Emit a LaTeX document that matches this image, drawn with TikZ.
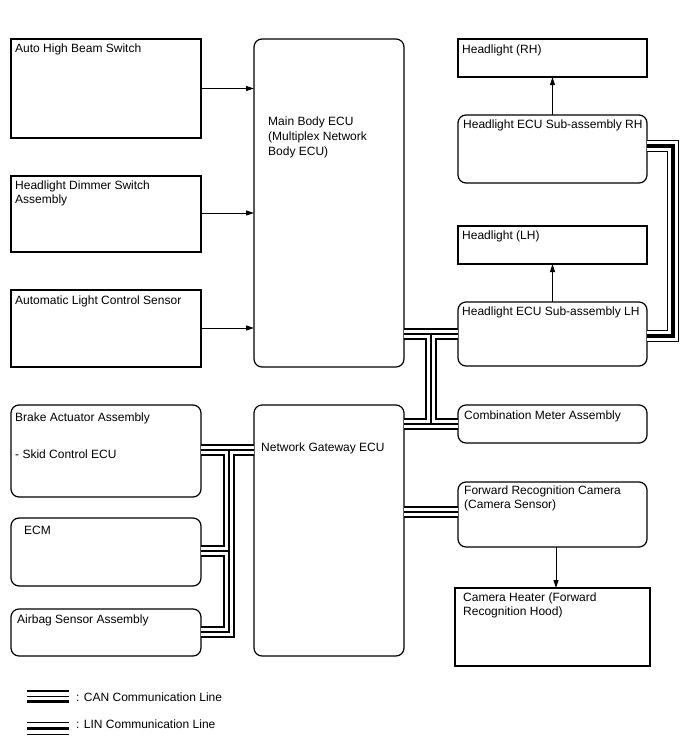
\documentclass[tikz,border=0pt]{standalone}
\usepackage{fontspec}
\setmainfont{Liberation Sans}
\usetikzlibrary{calc,arrows.meta}
\begin{document}
\begin{tikzpicture}[x=1pt,y=-1pt,
  box/.style={draw, line width=1.2pt, inner sep=0pt, outer sep=0pt, anchor=north west},
  sqbox/.style={box},
  rdbox/.style={box, rounded corners=8pt},
  txt/.style={anchor=north west, inner sep=0pt, align=left, font=\fontsize{12}{14}\selectfont},
  arr/.style={line width=1pt, -{Triangle[length=8pt,width=5pt]}},
  ]
\useasboundingbox[fill=white] (0,0) rectangle (688,755);

% ---------- boxes ----------
\node[sqbox, minimum width=190pt, minimum height=99pt] (ahb) at (11,39) {};
\node[sqbox, minimum width=190pt, minimum height=76pt] (dim) at (11,176) {};
\node[sqbox, minimum width=190pt, minimum height=77pt] (alc) at (11,290) {};
\node[rdbox, minimum width=150pt, minimum height=328pt] (mb) at (254,39) {};
\node[sqbox, minimum width=189pt, minimum height=38pt] (hrh) at (458,39) {};
\node[rdbox, minimum width=189pt, minimum height=68pt] (hrhe) at (458,115) {};
\node[sqbox, minimum width=189pt, minimum height=38pt] (hlh) at (458,226) {};
\node[rdbox, minimum width=189pt, minimum height=64pt] (hlhe) at (458,302) {};
\node[rdbox, minimum width=190pt, minimum height=92pt] (brk) at (11,405) {};
\node[rdbox, minimum width=150pt, minimum height=251pt] (gw) at (254,405) {};
\node[rdbox, minimum width=189pt, minimum height=38pt] (cm) at (458,405) {};
\node[rdbox, minimum width=189pt, minimum height=65pt] (frc) at (458,482) {};
\node[sqbox, minimum width=195pt, minimum height=78pt] (heat) at (455,588) {};
\node[rdbox, minimum width=190pt, minimum height=68pt] (ecm) at (11,518) {};
\node[rdbox, minimum width=190pt, minimum height=47pt] (air) at (11,609) {};

% ---------- texts ----------
\node[txt] (ahbT) at ($(ahb.north west)+(4,5)$) {Auto High Beam Switch};
\node[txt] (dimT) at ($(dim.north west)+(4,5)$) {Headlight Dimmer Switch\\Assembly};
\node[txt] (alcT) at ($(alc.north west)+(4,6)$) {Automatic Light Control Sensor};
\node[txt, font=\fontsize{12}{15}\selectfont] (mbT) at ($(mb.north west)+(14,78)$) {Main Body ECU\\(Multiplex Network\\Body ECU)};
\node[txt] (hrhT) at ($(hrh.north west)+(4,6)$) {Headlight (RH)};
\node[txt] (hrheT) at ($(hrhe.north west)+(5,5)$) {Headlight ECU Sub-assembly RH};
\node[txt] (hlhT) at ($(hlh.north west)+(4,5)$) {Headlight (LH)};
\node[txt] (hlheT) at ($(hlhe.north west)+(4,5)$) {Headlight ECU Sub-assembly LH};
\node[txt] (brkT) at ($(brk.north west)+(4,8)$) {Brake Actuator Assembly};
\node[txt] (brkT2) at ($(brk.north west)+(4,45)$) {- Skid Control ECU};
\node[txt] (gwT) at ($(gw.north west)+(7,38)$) {Network Gateway ECU};
\node[txt] (cmT) at ($(cm.north west)+(6,6)$) {Combination Meter Assembly};
\node[txt] (frcT) at ($(frc.north west)+(6,4)$) {Forward Recognition Camera\\(Camera Sensor)};
\node[txt] (heatT) at ($(heat.north west)+(8,5)$) {Camera Heater (Forward\\Recognition Hood)};
\node[txt] (ecmT) at ($(ecm.north west)+(13,8)$) {ECM};
\node[txt] (airT) at ($(air.north west)+(6,6)$) {Airbag Sensor Assembly};

% ---------- arrows ----------
\draw[arr] (ahb.east) -- (ahb.east -| mb.west);
\draw[arr] (dim.east |- 0,213) -- (mb.west |- 0,213);
\draw[arr] (alc.east |- 0,328) -- (mb.west |- 0,328);
\draw[arr] (hrhe.north) -- (hrh.south);
\draw[arr] (hlhe.north) -- (hlh.south);
\draw[arr] (frc.south -| 556,0) -- (heat.north -| 556,0);

% ---------- CAN lines ----------
\coordinate (j1) at (431,334);
\coordinate (j2) at (431,424);
\coordinate (j3) at (229,450);
\coordinate (j4) at (229,551);
\coordinate (j5) at (229,632);
\foreach \w/\c in {12.6/black,7.8/white,1.2/black}{
  \draw[line width=\w pt, \c]
    (mb.east |- j1) -- (hlhe.west |- j1)
    (j1) -- (j2)
    (gw.east |- j2) -- (cm.west |- j2)
    (gw.east |- 0,512) -- (frc.west |- 0,512)
    (gw.west |- j3) -- (brk.east |- j3)
    (j3) -- (j5) -- (air.east |- j5)
    (j4) -- (ecm.east |- j4);
}
% ---------- LIN line ----------
\coordinate (k1) at (673,146);
\coordinate (k2) at (673,336);
\foreach \w/\c in {12.6/black,10.4/white,3.2/black}{
  \draw[line width=\w pt, \c] (hrhe.east |- k1) -- (k1) -- (k2) -- (hlhe.east |- k2);
}

% ---------- legend ----------
\foreach \w/\c in {12.6/black,7.8/white,1.2/black}{
  \draw[line width=\w pt, \c] (27,696.3) -- (69,696.3);
}
\foreach \w/\c in {12.6/black,10.4/white,3.2/black}{
  \draw[line width=\w pt, \c] (27,728.5) -- (69,728.5);
}
\node[txt] (canT) at (76,693) {: CAN Communication Line};
\node[txt] (linT) at (76,720) {: LIN Communication Line};
\end{tikzpicture}
\end{document}
